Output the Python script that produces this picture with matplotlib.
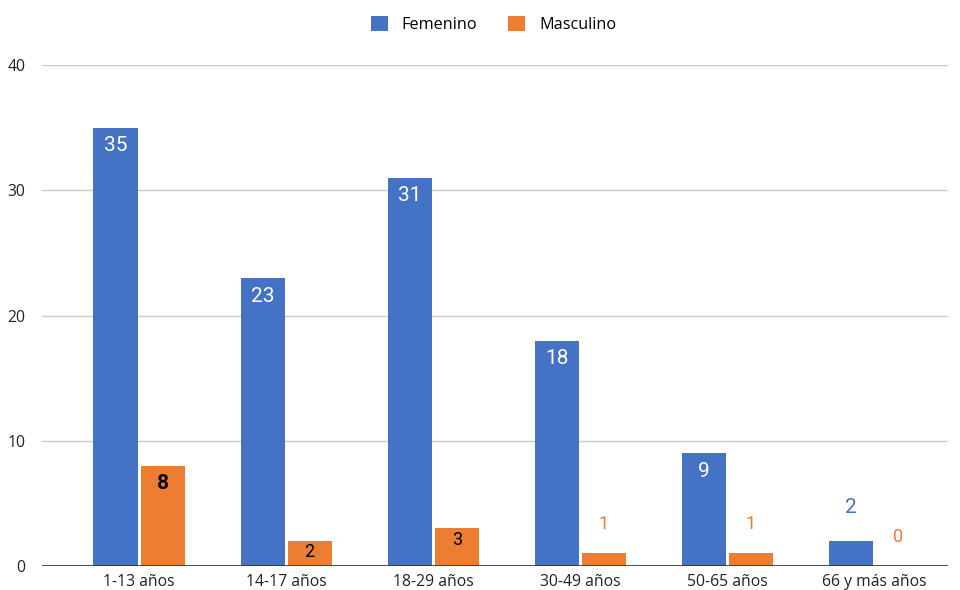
import numpy as np
import matplotlib.pyplot as plt

plt.rcParams['font.family'] = ['Open Sans', 'DejaVu Sans']

categorias = ['1-13 años', '14-17 años', '18-29 años', '30-49 años', '50-65 años', '66 y más años']
femenino = [35, 23, 31, 18, 9, 2]
masculino = [8, 2, 3, 1, 1, 0]

azul = '#4472C4'
naranja = '#ED7D31'
fuente_val = ['Roboto', 'DejaVu Sans']

fig = plt.figure(figsize=(9.6, 5.9), dpi=100)
ax = fig.add_axes([0.04375, 0.0407, 0.94375, 0.849])

x = np.arange(len(categorias))
w = 0.3
off = 0.16

ax.bar(x - off, femenino, w, color=azul, label='Femenino', zorder=3)
ax.bar(x + off, masculino, w, color=naranja, label='Masculino', zorder=3)

# etiquetas de valores
for i, v in enumerate(femenino):
    if v >= 5:
        ax.text(x[i] - off, v - 1.45, str(v), ha='center', va='center',
                color='white', fontsize=15, family=fuente_val, zorder=4)
    else:
        ax.text(x[i] - off, v + 2.7, str(v), ha='center', va='center',
                color=azul, fontsize=15, family=fuente_val, zorder=4)
for i, v in enumerate(masculino):
    if v >= 5:
        ax.text(x[i] + off, v - 1.45, str(v), ha='center', va='center',
                color='black', fontsize=15, fontweight='bold', family=fuente_val, zorder=4)
    elif v >= 2:
        ax.text(x[i] + off, v - 0.9, str(v), ha='center', va='center',
                color='black', fontsize=13, family=fuente_val, zorder=4)
    else:
        ax.text(x[i] + off, v + 2.35, str(v), ha='center', va='center',
                color=naranja, fontsize=13, family=fuente_val, zorder=4)

ax.set_xlim(-0.66, 5.5)
ax.set_ylim(0, 40)
ax.set_yticks([0, 10, 20, 30, 40])
ax.set_xticks(x)
ax.set_xticklabels(categorias)
ax.tick_params(axis='both', length=0, labelsize=11.3, labelcolor='#222222')
ax.tick_params(axis='y', pad=12)
ax.tick_params(axis='x', pad=6)

ax.grid(axis='y', color='#cccccc', lw=1, zorder=0)
ax.axhline(0, color='#333333', lw=1.2, zorder=5)
for s in ax.spines.values():
    s.set_visible(False)

fig.legend(loc='center', bbox_to_anchor=(0.514, 0.958), ncol=2, frameon=False,
           fontsize=11.7, handlelength=1.05, handleheight=1.05, columnspacing=1.9,
           handletextpad=0.85)

fig.savefig('out.png', dpi=100, facecolor='white')
